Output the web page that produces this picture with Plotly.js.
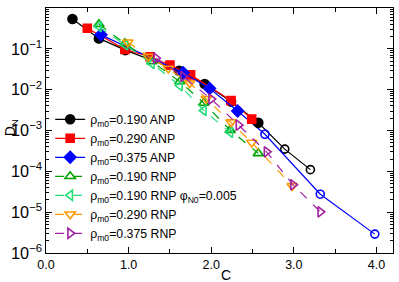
<!DOCTYPE html>
<html><head><meta charset="utf-8">
<script src="https://cdn.plot.ly/plotly-3.0.1.min.js"></script>
<style>html,body{margin:0;padding:0;background:#fff}#g{width:399px;height:282px}</style>
</head><body><div id="g"></div>
<script>
// rho_m0 = 0.190 ANP (filled, then open)
const c190A  = [0.32, 0.64, 0.96, 1.61, 1.92, 2.24, 2.57];
const d190A  = [0.54, 0.18, 0.093, 0.029, 0.0138, 0.0051, 0.00155];
const c190Ao = [2.57, 2.89, 3.20];
const d190Ao = [0.00155, 3.5e-4, 1.1e-4];
// rho_m0 = 0.290 ANP
const c290A = [0.50, 0.955, 1.26, 1.50, 1.75, 2.24, 2.49];
const d290A = [0.32, 0.097, 0.064, 0.040, 0.023, 0.0054, 0.0019];
// rho_m0 = 0.375 ANP (filled, then open)
const c375A  = [0.665, 1.66, 1.98, 2.32];
const d375A  = [0.22, 0.026, 0.0107, 0.0030];
const c375Ao = [2.32, 2.65, 3.32, 3.98];
const d375Ao = [0.0030, 8.1e-4, 2.75e-5, 2.9e-6];
// rho_m0 = 0.190 RNP
const c190R = [0.64, 0.955, 1.28, 1.62, 1.91, 2.23, 2.57];
const d190R = [0.40, 0.136, 0.049, 0.0158, 0.0047, 0.00102, 2.75e-4];
// rho_m0 = 0.190 RNP phi_N0 = 0.005
const c190P = [0.64, 0.96, 1.28, 1.62, 1.91, 2.23];
const d190P = [0.35, 0.125, 0.044, 0.0126, 0.0031, 9.0e-4];
// rho_m0 = 0.290 RNP
const c290R = [0.99, 1.24, 1.48, 1.74, 1.94, 2.24, 2.49, 2.98];
const d290R = [0.145, 0.065, 0.033, 0.0145, 0.0060, 0.0016, 5.1e-4, 4.4e-5];
// rho_m0 = 0.375 RNP
const c375R = [1.33, 1.66, 2.00, 2.33, 2.67, 2.99, 3.32];
const d375R = [0.059, 0.021, 0.0059, 0.00135, 3.0e-4, 4.7e-5, 1.02e-5];

const names = [
  'ρ<sub>m0</sub>=0.190 ANP',
  'ρ<sub>m0</sub>=0.290 ANP',
  'ρ<sub>m0</sub>=0.375 ANP',
  'ρ<sub>m0</sub>=0.190 RNP',
  'ρ<sub>m0</sub>=0.190 RNP φ<sub>N0</sub>=0.005',
  'ρ<sub>m0</sub>=0.290 RNP',
  'ρ<sub>m0</sub>=0.375 RNP'
];
const xTitle = 'C';
const yTitle = 'D<sub>N</sub>';

function tr(x, y, name, color, sym, dash, show, size) {
  return {x: x, y: y, name: name, type: 'scatter', mode: 'lines+markers',
    showlegend: show,
    line: {color: color, width: 1.2, dash: dash},
    marker: {color: color, symbol: sym, size: size || 8,
             line: {color: color, width: 1.6}}};
}

const data = [
  tr(c190Ao, d190Ao, '', '#000000', 'circle-open', 'solid', false, 8),
  tr(c375Ao, d375Ao, '', '#0000ff', 'circle-open', 'solid', false, 8),
  tr(c190A, d190A, names[0], '#000000', 'circle', 'solid', true, 9),
  tr(c290A, d290A, names[1], '#ff0000', 'square', 'solid', true, 8),
  tr(c375A, d375A, names[2], '#0000ff', 'diamond', 'solid', true, 9),
  tr(c190R, d190R, names[3], '#00a000', 'triangle-up-open', 'dash', true, 9),
  tr(c190P, d190P, names[4], '#22dd77', 'triangle-left-open', 'dash', true, 9),
  tr(c290R, d290R, names[5], '#ff9900', 'triangle-down-open', 'dash', true, 9),
  tr(c375R, d375R, names[6], '#a020a0', 'triangle-right-open', 'dash', true, 9)
];

const font = {family: 'Liberation Sans, Arial, sans-serif', size: 13, color: '#000'};
const layout = {
  width: 399, height: 282,
  margin: {l: 46, r: 6, t: 8, b: 29},
  paper_bgcolor: '#fff', plot_bgcolor: '#fff',
  font: font,
  showlegend: true,
  legend: {x: 0.012, y: 0.605, xanchor: 'left', yanchor: 'top',
           bgcolor: 'rgba(0,0,0,0)', font: {family: font.family, size: 12.3},
           tracegroupgap: 0, itemwidth: 30},
  xaxis: {range: [0, 4.2], dtick: 1, tick0: 0, tickformat: '.1f',
          ticks: 'inside', ticklen: 6, tickwidth: 1, tickcolor: '#000',
          minor: {dtick: 0.5, tick0: 0, ticks: 'inside', ticklen: 4, tickcolor: '#000'},
          showline: true, linewidth: 1.3, linecolor: '#000', mirror: 'allticks',
          showgrid: false, zeroline: false,
          tickfont: {family: font.family, size: 12.5}},
  yaxis: {type: 'log', range: [-6, 0], dtick: 1, exponentformat: 'power',
          labelalias: {'1': '10<sup>0</sup>'},
          ticks: 'inside', ticklen: 6, tickwidth: 1, tickcolor: '#000',
          minor: {dtick: 'D1', ticks: 'inside', ticklen: 3, tickcolor: '#000'},
          showline: true, linewidth: 1.3, linecolor: '#000', mirror: 'allticks',
          showgrid: false, zeroline: false,
          tickfont: {family: font.family, size: 13}},
  annotations: [
    {text: xTitle, xref: 'paper', yref: 'paper', x: 0.518, y: -0.128,
     xanchor: 'center', yanchor: 'bottom', showarrow: false, borderpad: 0,
     font: {family: font.family, size: 14}},
    {text: yTitle, xref: 'paper', yref: 'paper', x: -0.1, y: 0.51,
     xanchor: 'center', yanchor: 'middle', textangle: -90, showarrow: false,
     font: {family: font.family, size: 14}}
  ]
};

Plotly.newPlot('g', data, layout, {staticPlot: true, displayModeBar: false});
</script></body></html>
